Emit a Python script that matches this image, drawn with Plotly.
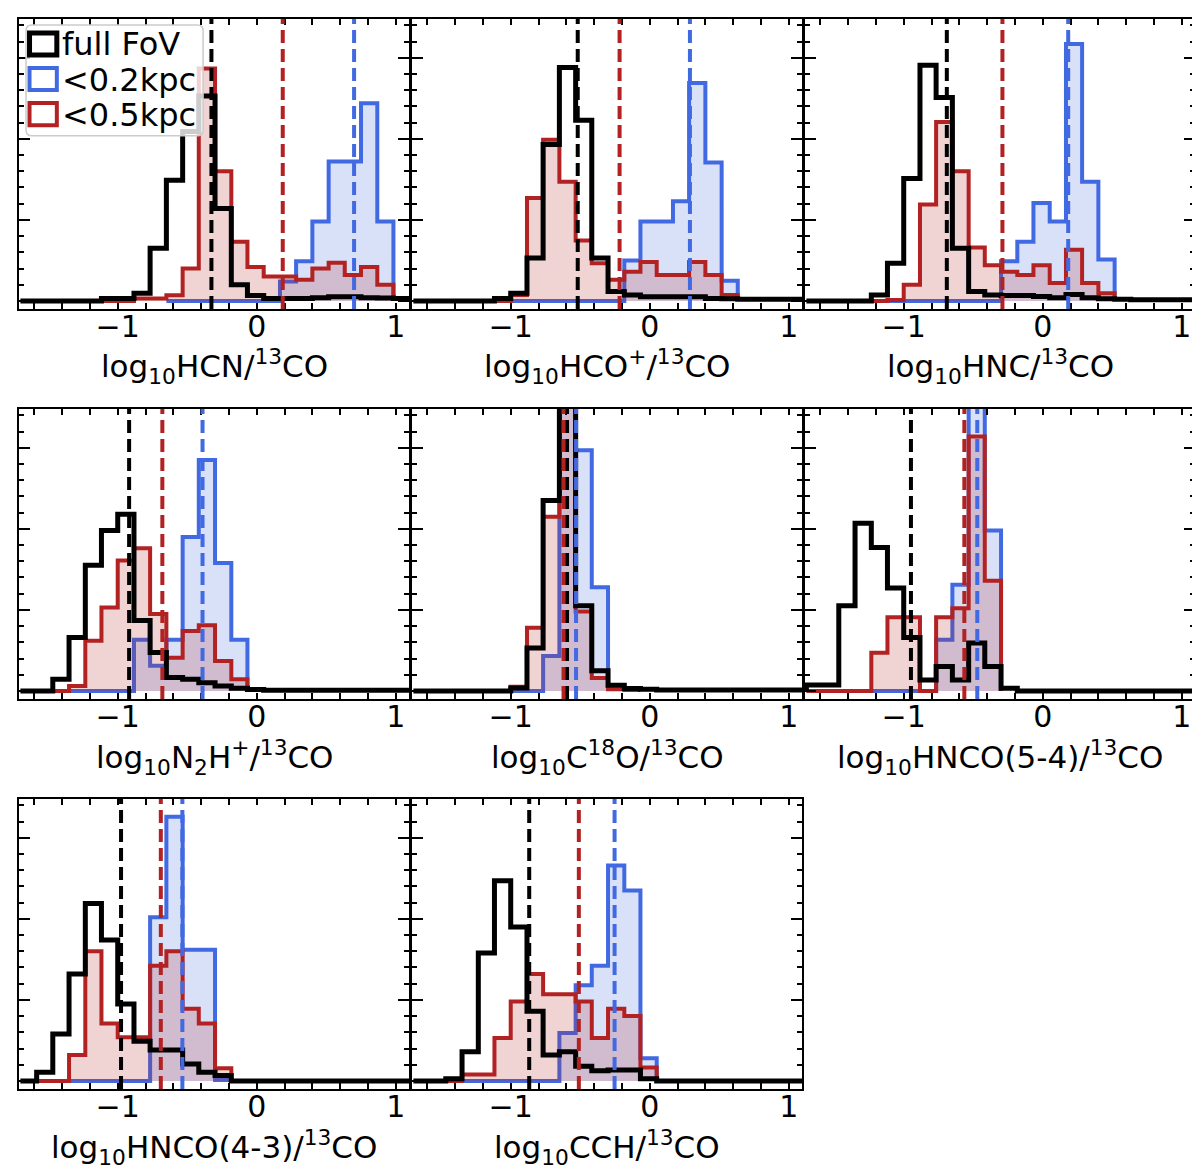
import plotly.graph_objects as go
from plotly.subplots import make_subplots

# histogram bin edges (24 bins)
EDGES = [-1.700, -1.583, -1.467, -1.350, -1.233, -1.117, -1.000, -0.883,
         -0.767, -0.650, -0.533, -0.417, -0.300, -0.183, -0.067, 0.050,
         0.167, 0.283, 0.400, 0.517, 0.633, 0.750, 0.867, 0.983, 1.100]
N = None

# bin heights (None = bin not in that histogram)
hcn_full = [0, 0, 0, 0, 0, 0.03, 0.03, 0.095, 0.65, 1.49, 2.09, 2.53, 1.14, 0.2, 0.066, 0.03, 0.03, 0.03, 0.04, 0.05, 0.05, 0.04, 0.035, 0.03]
hcn_02 = [N, N, N, N, N, N, N, N, N, 0, 0, 0, 0, 0, 0, 0, 0.24, 0.49, 0.98, 1.72, 1.72, 2.44, 0.98, N]
hcn_05 = [N, N, N, N, N, 0, 0, 0.03, 0.03, 0.07, 0.4, 2.87, 1.6, 0.73, 0.42, 0.3, 0.3, 0.26, 0.4, 0.47, 0.32, 0.42, 0.2, N]

hcop_full = [0, 0, 0, 0, 0, 0.03, 0.095, 0.53, 1.93, 2.88, 2.23, 0.53, 0.115, 0.074, 0.05, 0.05, 0.05, 0.05, 0.03, 0.025, 0.02, 0.02, 0.02, 0.02]
hcop_02 = [N, N, N, N, N, N, 0, 0, 0, 0, 0, 0, 0, 0.5, 0.98, 0.98, 1.23, 2.69, 1.71, 0.25, N, N, N, N]
hcop_05 = [N, N, N, N, N, 0, 0.074, 1.27, 1.99, 1.47, 0.745, 0.465, 0.26, 0.36, 0.48, 0.32, 0.32, 0.48, 0.32, 0.074, N, N, N, N]

hnc_full = [0, 0, 0, 0, 0.074, 0.465, 1.51, 2.91, 2.51, 0.65, 0.115, 0.074, 0.066, 0.066, 0.055, 0.04, 0.08, 0.04, 0.025, 0.02, 0.015, 0.015, 0.015, 0.015]
hnc_02 = [N, N, N, N, N, 0, 0, 0, 0, 0, 0, 0, 0.49, 0.73, 1.21, 0.98, 3.17, 1.47, 0.51, N, N, N, N, N]
hnc_05 = [N, N, N, N, 0, 0.01, 0.2, 1.19, 2.21, 1.6, 0.66, 0.44, 0.36, 0.32, 0.44, 0.22, 0.63, 0.22, 0.095, N, N, N, N, N]

n2hp_full = [0, 0, 0.145, 0.66, 1.55, 1.98, 2.18, 0.87, 0.475, 0.165, 0.145, 0.10, 0.062, 0.033, 0.017, 0.008, 0.008, 0.008, 0.008, 0.008, 0.008, 0.008, 0.008, 0.008]
n2hp_02 = [N, N, N, 0, 0, 0, 0, 0.63, 0.31, 0.63, 1.9, 2.85, 1.58, 0.63, N, N, N, N, N, N, N, N, N, N]
n2hp_05 = [N, N, 0, 0.06, 0.62, 1.03, 1.61, 1.76, 0.95, 0.41, 0.74, 0.81, 0.37, 0.145, N, N, N, N, N, N, N, N, N, N]

c18o_full = [0, 0, 0, 0, 0, 0, 0.035, 0.53, 2.35, 3.9, 1.05, 0.25, 0.07, 0.03, 0.02, 0.01, 0.01, 0.01, 0.01, 0.01, 0.01, 0.01, 0.01, 0.01]
c18o_02 = [N, N, N, N, N, N, 0, 0, 0.43, 3.9, 2.97, 1.28, N, N, N, N, N, N, N, N, N, N, N, N]
c18o_05 = [N, N, N, N, N, N, 0.05, 0.78, 2.15, 3.9, 0.98, 0.16, 0.02, 0.01, N, N, N, N, N, N, N, N, N, N]

hnco54_full = [0.074, 0.074, 1.05, 2.07, 1.77, 1.27, 0.66, 0.136, 0.30, 0.136, 0.59, 0.30, 0.033, 0, 0, 0, 0, 0, 0, 0, 0, 0, 0, 0]
hnco54_02 = [N, N, N, N, 0, 0, 0, 0, 0.63, 1.31, 3.9, 1.98, N, N, N, N, N, N, N, N, N, N, N, N]
hnco54_05 = [0, 0, 0, 0, 0.47, 0.91, 0.91, 0, 0.91, 1.02, 3.14, 1.36, N, N, N, N, N, N, N, N, N, N, N, N]

hnco43_full = [0, 0.107, 0.58, 1.32, 2.19, 1.74, 0.95, 0.49, 0.38, 0.38, 0.21, 0.107, 0.066, 0, 0, 0, 0, 0, 0, 0, 0, 0, 0, 0]
hnco43_02 = [N, N, N, 0, 0, 0, 0, 0, 2.02, 3.26, 1.62, 1.62, 0.01, N, N, N, N, N, N, N, N, N, N, N]
hnco43_05 = [N, 0, 0, 0.32, 1.6, 0.71, 0.54, 0.54, 1.42, 1.6, 0.89, 0.71, 0.157, N, N, N, N, N, N, N, N, N, N, N]

cch_full = [0, 0, 0.025, 0.36, 1.58, 2.47, 1.9, 0.86, 0.32, 0.36, 0.18, 0.124, 0.136, 0.136, 0.025, 0, 0, 0, 0, 0, 0, 0, 0, 0]
cch_02 = [N, N, N, 0, 0, 0, 0, 0, 0, 0.59, 1.18, 1.42, 2.66, 2.35, 0.28, N, N, N, N, N, N, N, N, N]
cch_05 = [N, N, 0, 0.08, 0.08, 0.53, 0.98, 1.32, 1.07, 1.07, 0.98, 0.53, 0.89, 0.80, 0.165, N, N, N, N, N, N, N, N, N]

# medians (dashed lines)
med_full = [-0.326, -0.518, -0.69, -0.918, -0.595, -0.948, -0.976, -0.867]
med_02 = [0.70, 0.289, 0.183, -0.39, -0.53, -0.471, -0.535, -0.253]
med_05 = [0.187, -0.217, -0.29, -0.679, -0.62, -0.564, -0.69, -0.51]

labels = [
    "log<sub>10</sub>HCN/<sup>13</sup>CO",
    "log<sub>10</sub>HCO<sup>+</sup>/<sup>13</sup>CO",
    "log<sub>10</sub>HNC/<sup>13</sup>CO",
    "log<sub>10</sub>N<sub>2</sub>H<sup>+</sup>/<sup>13</sup>CO",
    "log<sub>10</sub>C<sup>18</sup>O/<sup>13</sup>CO",
    "log<sub>10</sub>HNCO(5-4)/<sup>13</sup>CO",
    "log<sub>10</sub>HNCO(4-3)/<sup>13</sup>CO",
    "log<sub>10</sub>CCH/<sup>13</sup>CO",
]
full_sets = [hcn_full, hcop_full, hnc_full, n2hp_full, c18o_full, hnco54_full, hnco43_full, cch_full]
r02_sets = [hcn_02, hcop_02, hnc_02, n2hp_02, c18o_02, hnco54_02, hnco43_02, cch_02]
r05_sets = [hcn_05, hcop_05, hnc_05, n2hp_05, c18o_05, hnco54_05, hnco43_05, cch_05]

legend_names = ["full FoV", "<0.2kpc", "<0.5kpc"]

BLACK = "black"
BLUE = "#4169E1"
RED = "#B22222"
BLUE_FILL = "rgba(65,105,225,0.2)"
RED_FILL = "rgba(178,34,34,0.2)"
FONT = "DejaVu Sans"


def step_xy(heights):
    idx = [i for i, h in enumerate(heights) if h is not None]
    i0, i1 = idx[0], idx[-1]
    h = heights[i0:i1 + 1]
    x = [EDGES[i0]] + EDGES[i0:i1 + 2]
    y = [0] + h + [0]
    return x, y


fig = make_subplots(rows=3, cols=3)

W, H = 1200, 1169
for k in range(9):
    r, c = k // 3, k % 3
    left = 11 + 393 * c
    top = 11 + 390 * r
    fig.update_xaxes(domain=[left / W, (left + 390) / W], row=r + 1, col=c + 1)
    fig.update_yaxes(domain=[1 - (top + 290) / H, 1 - top / H], row=r + 1, col=c + 1)

for k in range(8):
    r, c = k // 3 + 1, k % 3 + 1
    for data, col, fc, lw in [(r02_sets[k], BLUE, BLUE_FILL, 4),
                              (r05_sets[k], RED, RED_FILL, 4),
                              (full_sets[k], BLACK, None, 5)]:
        x, y = step_xy(data)
        fig.add_trace(go.Scatter(
            x=x, y=y, mode="lines",
            line=dict(shape="hv", color=col, width=lw),
            fill="tozeroy" if fc else "none",
            fillcolor=fc,
            showlegend=False, hoverinfo="skip"
        ), row=r, col=c)
    for m, col in [(med_full[k], BLACK), (med_05[k], RED), (med_02[k], BLUE)]:
        fig.add_vline(x=m, line=dict(color=col, width=4, dash="13px,6px"), row=r, col=c)
    # axis label
    xr = "x" if k == 0 else "x%d" % (k + 1)
    yr = "y" if k == 0 else "y%d" % (k + 1)
    fig.add_annotation(
        text=labels[k], xref=xr + " domain", yref=yr + " domain",
        x=0.5, y=-0.2, xanchor="center", yanchor="middle",
        showarrow=False, font=dict(size=31, family=FONT, color="black")
    )

fig.update_xaxes(
    range=[-1.71, 1.095], tick0=0, dtick=1,
    ticks="inside", ticklen=6, tickwidth=2, tickcolor="black",
    minor=dict(dtick=0.2, ticks="inside", ticklen=6, tickwidth=1.5, tickcolor="black"),
    showline=True, linewidth=2, linecolor="black", mirror="allticks",
    showgrid=False, zeroline=False,
    tickfont=dict(size=30, family=FONT, color="black"),
    ticklabelstandoff=-10
)
fig.update_yaxes(
    range=[-0.1, 3.48], tick0=0, dtick=1,
    ticks="inside", ticklen=11, tickwidth=2, tickcolor="black",
    minor=dict(dtick=0.2, ticks="inside", ticklen=5, tickwidth=1.5, tickcolor="black"),
    showline=True, linewidth=2, linecolor="black", mirror="allticks",
    showgrid=False, zeroline=False, showticklabels=False
)
fig.update_xaxes(visible=False, row=3, col=3)
fig.update_yaxes(visible=False, row=3, col=3)

# legend drawn in the first panel
def rounded_rect(x0, y0, x1, y1, rx, ry):
    return (f"M {x0 + rx},{y0} L {x1 - rx},{y0} Q {x1},{y0} {x1},{y0 + ry} "
            f"L {x1},{y1 - ry} Q {x1},{y1} {x1 - rx},{y1} L {x0 + rx},{y1} "
            f"Q {x0},{y1} {x0},{y1 - ry} L {x0},{y0 + ry} Q {x0},{y0} {x0 + rx},{y0} Z")

fig.add_shape(type="path", xref="x domain", yref="y domain",
              path=rounded_rect(0.018, 0.597, 0.472, 0.979, 0.015, 0.02),
              fillcolor="rgba(255,255,255,0.8)", line=dict(color="#cccccc", width=1.5),
              layer="above")
patch_rows = [(0.876, 0.952, 0.914), (0.755, 0.831, 0.790), (0.634, 0.710, 0.669)]
for (py0, py1, ty), col, name, lw in zip(patch_rows, [BLACK, BLUE, RED], legend_names, [5, 4, 4]):
    fig.add_shape(type="rect", xref="x domain", yref="y domain",
                  x0=0.027, x1=0.097, y0=py0, y1=py1,
                  fillcolor="white", line=dict(color=col, width=lw), layer="above")
    fig.add_annotation(text=name.replace("<", "&lt;"), xref="x domain", yref="y domain",
                       x=0.104, y=ty, xanchor="left", yanchor="middle", showarrow=False,
                       font=dict(size=32, family=FONT, color="black"))

fig.update_layout(
    width=W, height=H,
    margin=dict(l=0, r=0, t=0, b=0),
    plot_bgcolor="white", paper_bgcolor="white",
    showlegend=False,
    font=dict(family=FONT, color="black")
)

fig.write_html("out.html")
